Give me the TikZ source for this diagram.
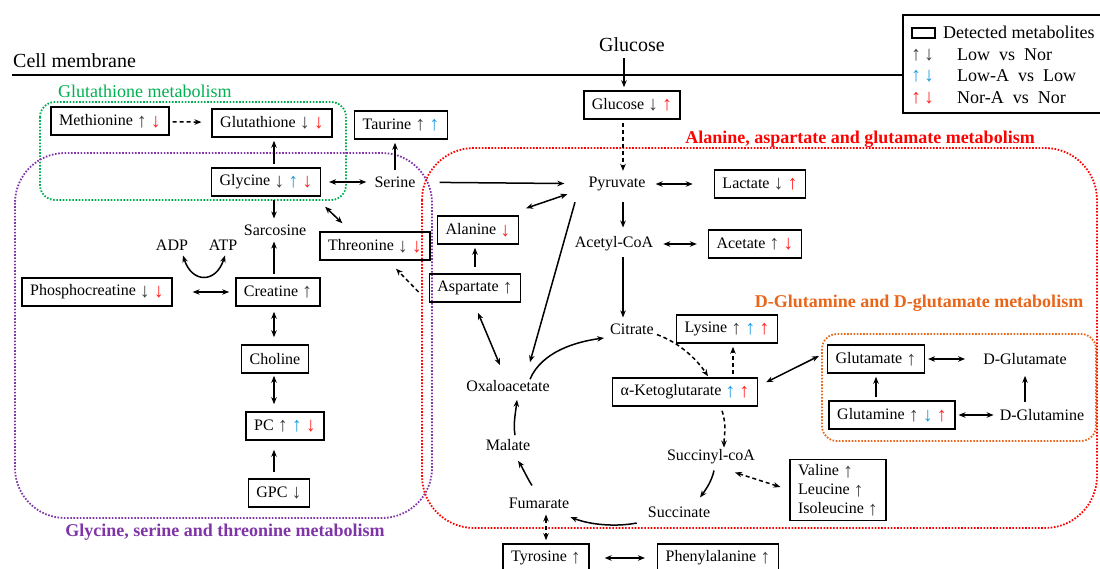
\documentclass[tikz,border=0pt]{standalone}
\usepackage{fontspec}
\setmainfont{Liberation Serif}
\usetikzlibrary{arrows.meta}

\definecolor{arrgray}{HTML}{404040}
\definecolor{arrblue}{HTML}{1E9CE0}
\definecolor{arrred}{HTML}{FF2020}
\definecolor{glsgreen}{HTML}{00B050}
\definecolor{gstpurple}{HTML}{7F35A8}
\definecolor{aagred}{HTML}{FF0000}
\definecolor{dglorange}{HTML}{E8661A}

\newcommand{\arrglyph}[2]{\textcolor{#1}{\fontsize{20}{19}\selectfont\raisebox{-1.5pt}{#2}}}
\newcommand{\upK}{\arrglyph{arrgray}{↑}}
\newcommand{\dnK}{\arrglyph{arrgray}{↓}}
\newcommand{\upB}{\arrglyph{arrblue}{↑}}
\newcommand{\dnB}{\arrglyph{arrblue}{↓}}
\newcommand{\upR}{\arrglyph{arrred}{↑}}
\newcommand{\dnR}{\arrglyph{arrred}{↓}}

\begin{document}
\begin{tikzpicture}[x=1pt, y=-1pt,
    >={Stealth[length=7pt,width=5.5pt]},
    every node/.style={font=\fontsize{16}{19}\selectfont, inner sep=3pt},
    metab/.style={draw, line width=1.5pt, minimum height=28pt, inner xsep=8pt},
    flow/.style={draw, line width=1.5pt, shorten >=3pt, shorten <=3pt},
    every edge/.style={flow},
    dsh/.style={dash pattern=on 4pt off 3pt},
    region/.style={line width=1.8pt, dash pattern=on 1.6pt off 1.6pt},
    pathtitle/.style={font=\fontsize{18}{21}\selectfont\bfseries},
    legtext/.style={anchor=west, font=\fontsize{18}{21}\selectfont}]
    \useasboundingbox (0,0) rectangle (1100,569);

    \draw[line width=1.5pt] (12,75) -- (903,75);
    \node[anchor=west, font=\fontsize{20}{24}\selectfont] (cell) at (10,61) {Cell membrane};

    \draw[line width=1.5pt] (903,15) rectangle (1112,113);
    \draw[line width=1.4pt] (912,28) rectangle (935,38);
    \node[legtext] (lgdet) at (940,32) {Detected metabolites};
    \node[legtext] (lgk) at (908,55) {\upK\,\dnK};
    \node[legtext] (lgb) at (908,76) {\upB\,\dnB};
    \node[legtext] (lgr) at (908,98) {\upR\,\dnR};
    \node[legtext] (lgkt) at (954,55) {Low~~vs~~Nor};
    \node[legtext] (lgbt) at (954,76) {Low-A~~vs~~Low};
    \node[legtext] (lgrt) at (954,98) {Nor-A~~vs~~Nor};

    \draw[region, glsgreen, rounded corners=15] (40,102) rectangle (346,200);
    \draw[region, gstpurple, rounded corners=50] (15,153) rectangle (432,518);
    \draw[region, aagred, rounded corners=52] (422,148) rectangle (1097,528);
    \draw[region, dglorange, rounded corners=15] (822,334) rectangle (1096,441);
    \node[anchor=west, glsgreen, font=\fontsize{18}{21}\selectfont] (tgsh) at (55,91) {Glutathione metabolism};
    \node[pathtitle, aagred] (taag) at (860,139) {Alanine, aspartate and glutamate metabolism};
    \node[pathtitle, dglorange] (tdgl) at (919,303) {D-Glutamine and D-glutamate metabolism};
    \node[pathtitle, gstpurple] (tgst) at (225,532) {Glycine, serine and threonine metabolism};

    \coordinate (lsp) at (274,0);
    \coordinate (rsp) at (623,0);

    \node[font=\fontsize{20}{24}\selectfont] (glc0) at (632,45) {Glucose};
    \node[metab] (glcb) at (632,105) {Glucose \dnK\ \upR};
    \node (pyr) at (617,184) {Pyruvate};
    \node[metab] (lac) at (760,184) {Lactate \dnK\ \upR};
    \node (acoa) at (614,244) {Acetyl-CoA};
    \node[metab] (act) at (755,244) {Acetate \upK\ \dnR};
    \node (cit) at (632,329) {Citrate};
    \node[metab] (lys) at (727,329) {Lysine \upK\ \upB\ \upR};
    \node[metab] (akg) at (685,392) {α-Ketoglutarate \upB\ \upR};
    \node (oaa) at (508,386) {Oxaloacetate};
    \node (mal) at (508,445) {Malate};
    \node (scoa) at (711,457) {Succinyl-coA};
    \node (suc) at (679,512) {Succinate};
    \node (fum) at (539,503) {Fumarate};
    \node[metab, align=left, inner ysep=5pt] (bcaa) at (838,490) {Valine \upK\\Leucine \upK\\Isoleucine \upK};
    \node[metab] (tyr) at (546,558) {Tyrosine \upK};
    \node[metab] (phe) at (718,558) {Phenylalanine \upK};
    \node[metab] (glu) at (876,359) {Glutamate \upK};
    \node (dglu) at (1025,359) {D-Glutamate};
    \node[metab] (gln) at (892,415) {Glutamine \upK\ \dnB\ \upR};
    \node (dgln) at (1042,415) {D-Glutamine};

    \node[metab] (met) at (110,121) {Methionine \upK\ \dnR};
    \node[metab] (gsh) at (272,123) {Glutathione \dnK\ \dnR};
    \node[metab] (tau) at (401,125) {Taurine \upK\ \upB};
    \node[metab] (gly) at (266,182) {Glycine \dnK\ \upB\ \dnR};
    \node (ser) at (395,182) {Serine};
    \node (sar) at (275,230) {Sarcosine};
    \node[metab] (thr) at (375,246) {Threonine \dnK\ \dnR};
    \node[metab] (ala) at (478,230) {Alanine \dnR};
    \node[metab] (asp) at (475,288) {Aspartate \upK};
    \node (adp) at (172,245) {ADP};
    \node (atp) at (223,245) {ATP};
    \node[metab] (pcr) at (97,292) {Phosphocreatine \dnK\ \dnR};
    \node[metab] (cre) at (278,292) {Creatine \upK};
    \node[metab] (cho) at (275,359) {Choline};
    \node[metab] (pc) at (285,426) {PC \upK\ \upB\ \dnR};
    \node[metab] (gpc) at (279,493) {GPC \dnK};

    \path
    ([shift={(-8,0)}]glc0.south) edge[->] ([shift={(-8,0)}]glcb.north)
    (glcb.south -| rsp) edge[->, dsh] (pyr.north -| rsp)
    (pyr) edge[<->, shorten <=7pt, shorten >=21pt] (lac)
    (pyr.south -| rsp) edge[->, shorten <=8pt, shorten >=6pt] (acoa.north -| rsp)
    (acoa) edge[<->, shorten <=7pt, shorten >=11pt] (act)
    (acoa.south -| rsp) edge[->] (cit.north -| rsp)
    (ser) edge[->, shorten <=21pt, shorten >=21pt] (pyr)
    (gly) edge[<->, shorten <=8pt, shorten >=5pt] (ser)
    (gly.north -| lsp) edge[->] (gsh.south -| lsp)
    (ser.north) edge[->] (ser.north |- tau.south)
    (met) edge[->, dsh, shorten >=10pt] (gsh)
    (gly.south -| lsp) edge[->] (sar.north -| lsp)
    ([shift={(4,10)}]gly.south east) edge[<->, shorten <=0pt, shorten >=0pt] ([shift={(23,-8)}]thr.north west)
    (cre.north -| lsp) edge[->] (sar.south -| lsp)
    (pcr) edge[<->, shorten <=20pt, shorten >=6pt] (cre)
    (cre.south -| lsp) edge[<->, shorten <=5pt, shorten >=7pt] (cho.north -| lsp)
    (cho.south -| lsp) edge[<->, shorten <=2pt, shorten >=7pt] (pc.north -| lsp)
    (gpc.north -| lsp) edge[->, shorten <=6pt, shorten >=9pt] (pc.south -| lsp)
    ([shift={(-10,4)}]asp.west) edge[->, dsh, shorten <=0pt, shorten >=0pt] ([shift={(21,8)}]thr.south)
    (asp.north) edge[->, shorten <=6pt] (asp.north |- ala.south)
    ([shift={(7,-7)}]ala.north east) edge[<->, shorten <=0pt, shorten >=0pt] ([shift={(-18,0)}]pyr.south west)
    ([shift={(-42,8)}]pyr.south) edge[->, shorten <=0pt, shorten >=0pt] ([shift={(-23,-15)}]oaa.north east)
    ([shift={(3,10)}]asp.south) edge[<->, shorten <=0pt, shorten >=0pt] ([shift={(-8,-12)}]oaa.north)
    ([shift={(48,0)}]akg.north) edge[->, dsh] ([shift={(48,0)}]akg.north |- lys.south)
    ([shift={(8,5)}]akg.north east) edge[<->, shorten <=0pt, shorten >=0pt] ([shift={(-8,-3)}]glu.west)
    (glu) edge[<->, shorten >=15pt] (dglu)
    (gln) edge[<->] (dgln)
    (gln.north -| glu) edge[->] (glu.south)
    (dgln.north -| dglu) edge[->, shorten <=4pt, shorten >=8pt] (dglu.south)
    ([shift={(24,5)}]scoa.south) edge[<->, dsh, shorten <=0pt, shorten >=0pt] ([shift={(-9,-3)}]bcaa.west)
    (fum.south -| tyr) edge[<->, dsh] (tyr.north)
    (tyr) edge[<->, shorten <=15pt, shorten >=12pt] (phe);

    \draw[flow, <->, shorten <=0pt, shorten >=0pt] ([shift={(11,2)}]adp.south) .. controls +(9,28) and +(-9,28) .. ([shift={(2,2)}]atp.south);
    \draw[flow, ->, shorten <=0pt] ([shift={(22,2)}]oaa.north) .. controls +(12,-28) and +(-30,4) .. (cit.south west);
    \draw[flow, ->, dsh, shorten <=0pt, shorten >=0pt] ([shift={(0,-3)}]cit.south east) .. controls +(22,8) and +(-12,-18) .. ([shift={(23,-1)}]akg.north);
    \draw[flow, ->, dsh, shorten <=0pt, shorten >=0pt] ([shift={(37,4)}]akg.south) .. controls +(5,15) and +(0,-12) .. ([shift={(13,1)}]scoa.north);
    \draw[flow, ->, shorten <=0pt, shorten >=0pt] ([shift={(7,-1)}]mal.north) .. controls +(-2,-12) and +(-1,10) .. ([shift={(9,5)}]oaa.south);
    \draw[flow, ->, shorten <=0pt, shorten >=0pt] ([shift={(-7,-9)}]fum.north) .. controls +(-4,-6) and +(4,6) .. ([shift={(10,7)}]mal.south);
    \draw[flow, ->, shorten <=0pt, shorten >=0pt] ([shift={(3,3)}]scoa.south) .. controls +(-2,10) and +(6,-8) .. ([shift={(21,-6)}]suc.north);
    \draw[flow, ->, shorten <=0pt, shorten >=0pt] ([shift={(-8,11)}]suc.west) .. controls +(-20,4) and +(20,8) .. ([shift={(-2,14)}]fum.east);
\end{tikzpicture}
\end{document}
